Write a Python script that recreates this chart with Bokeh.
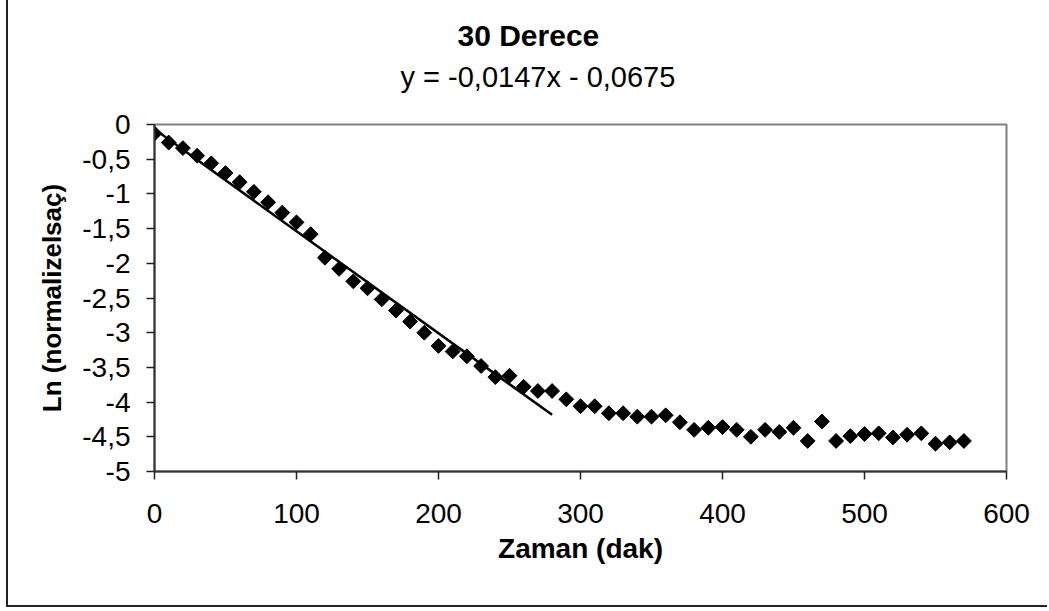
import math
from bokeh.plotting import figure
from bokeh.models import Range1d, FixedTicker, Title
from bokeh.embed import file_html
from bokeh.resources import INLINE

# ---- data ----
time_min = [0, 10, 20, 30, 40, 50, 60, 70, 80, 90,
            100, 110, 120, 130, 140, 150, 160, 170, 180, 190,
            200, 210, 220, 230, 240, 250, 260, 270, 280, 290,
            300, 310, 320, 330, 340, 350, 360, 370, 380, 390,
            400, 410, 420, 430, 440, 450, 460, 470, 480, 490,
            500, 510, 520, 530, 540, 550, 560, 570]
ln_norm = [-0.13, -0.26, -0.34, -0.45, -0.56, -0.70, -0.83, -0.97, -1.12, -1.27,
           -1.41, -1.58, -1.92, -2.08, -2.26, -2.36, -2.52, -2.68, -2.84, -3.00,
           -3.19, -3.27, -3.34, -3.48, -3.64, -3.62, -3.78, -3.84, -3.84, -3.96,
           -4.06, -4.06, -4.16, -4.16, -4.21, -4.21, -4.19, -4.29, -4.40, -4.37,
           -4.36, -4.40, -4.50, -4.40, -4.43, -4.37, -4.56, -4.28, -4.56, -4.49,
           -4.46, -4.45, -4.51, -4.47, -4.45, -4.60, -4.58, -4.56]
trend_slope = -0.0147
trend_intercept = -0.0675
trend_x = [0, 280]
trend_y = [trend_slope * x + trend_intercept for x in trend_x]

x_ticks = [0, 100, 200, 300, 400, 500, 600]
y_ticks = [0, -0.5, -1, -1.5, -2, -2.5, -3, -3.5, -4, -4.5, -5]
y_tick_labels = ["0", "-0,5", "-1", "-1,5", "-2", "-2,5", "-3", "-3,5", "-4", "-4,5", "-5"]

title_text = "30 Derece"
subtitle_text = "y = -0,0147x - 0,0675"
x_label = "Zaman (dak)"
y_label = "Ln (normalizelsaç)"

FONT = "Liberation Sans"

p = figure(width=1041, height=607, output_backend="svg", toolbar_location=None,
           x_range=Range1d(0, 600), y_range=Range1d(-5, 0),
           min_border_left=146, min_border_right=43, min_border_top=124, min_border_bottom=136)
p.styles = {"margin-left": "6px", "border-left": "2px solid #222222",
            "border-bottom": "2px solid #222222"}
p.background_fill_color = "white"
p.border_fill_color = "white"
p.outline_line_color = "#808080"
p.outline_line_width = 2
p.xgrid.visible = False
p.ygrid.visible = False

for ax in (p.xaxis[0], p.yaxis[0]):
    ax.axis_line_color = "#333333"
    ax.axis_line_width = 2
    ax.major_tick_line_color = "#222222"
    ax.major_tick_line_width = 1.5
    ax.major_tick_out = 8
    ax.major_tick_in = 0
    ax.minor_tick_line_color = None
    ax.major_label_text_font = FONT
    ax.major_label_text_font_size = "28px"
    ax.major_label_text_color = "black"
    ax.axis_label_text_font = FONT
    ax.axis_label_text_font_style = "bold"
    ax.axis_label_text_color = "black"

p.xaxis.ticker = FixedTicker(ticks=x_ticks)
p.yaxis.ticker = FixedTicker(ticks=y_ticks)
p.yaxis.major_label_overrides = {t: s for t, s in zip(y_ticks, y_tick_labels)}
p.xaxis.major_label_standoff = 24
p.yaxis.major_label_standoff = 16

p.xaxis.axis_label = x_label
p.xaxis.axis_label_text_font_size = "28px"
p.xaxis.axis_label_standoff = 7
p.yaxis.axis_label = y_label
p.yaxis.axis_label_text_font_size = "26px"
p.yaxis.axis_label_standoff = 12

# trendline and data
p.line(trend_x, trend_y, line_color="black", line_width=2.5)
p.scatter(time_min, ln_norm, marker="square", size=10.5, angle=math.pi / 4,
          fill_color="black", line_color="black")

# titles (first added sits nearest the frame)
p.add_layout(Title(text=subtitle_text, text_font=FONT, text_font_size="29px",
                   text_font_style="normal", text_color="black", align="left",
                   offset=246, standoff=64), "above")
p.add_layout(Title(text=title_text, text_font=FONT, text_font_size="30px",
                   text_font_style="bold", text_color="black", align="left",
                   offset=303, standoff=-50), "above")

open("out.html", "w").write(file_html(p, INLINE))
